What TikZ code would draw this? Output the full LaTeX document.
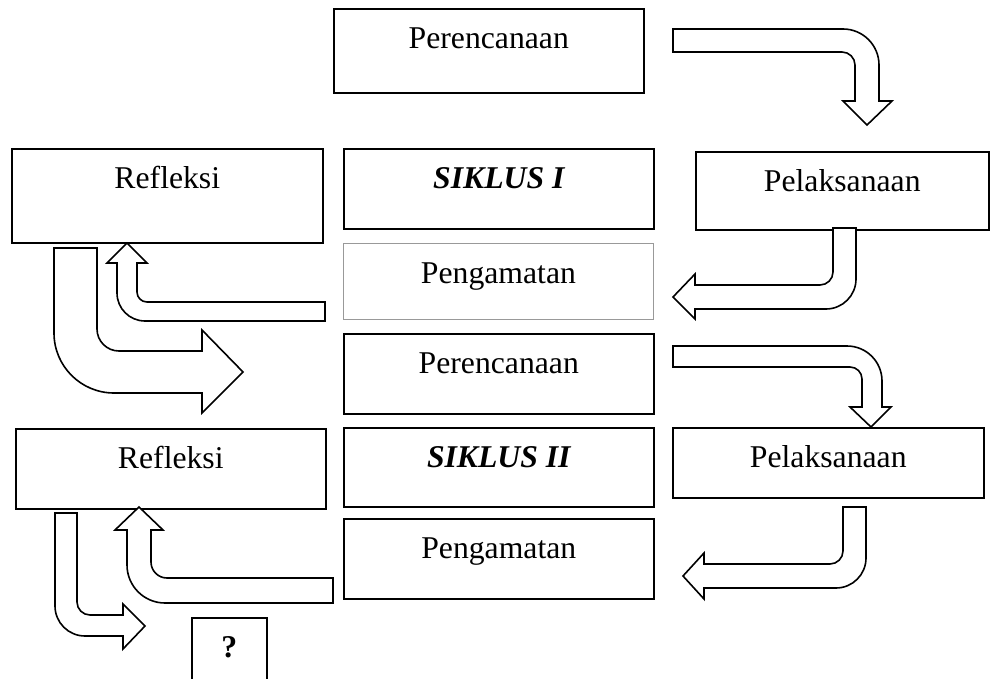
\documentclass[tikz,border=0pt]{standalone}
\usepackage{fontspec}
\setmainfont{Liberation Serif}
\tikzstyle{stage} = [rectangle, draw=black, line width=1.6pt, anchor=north west,
inner sep=0pt, text height=40pt, font=\fontsize{31.7}{36}\selectfont]
\tikzstyle{faint} = [draw=black!40, line width=0.9pt]
\tikzstyle{cycle} = [font=\fontsize{31.7}{36}\selectfont\bfseries\itshape]
\tikzstyle{bentarrow} = [draw=black, line width=1.6pt, fill=white]

\begin{document}
\begin{tikzpicture}[x=1pt, y=-1pt]
  \useasboundingbox (0,0) rectangle (998,679);

  % siklus I
  \node[stage, minimum width=310pt, text depth=44pt] (plan1) at (333,8) {Perencanaan};
  \node[stage, minimum width=311pt, text depth=54pt] (refl1) at (11,148) {Refleksi};
  \node[stage, cycle, minimum width=310pt, text depth=40pt] (siklus1) at (343,148) {SIKLUS I};
  \node[stage, minimum width=293pt, text depth=38pt] (pel1) at (695,151) {Pelaksanaan};
  \node[stage, faint, minimum width=310pt, text depth=36pt] (peng1) at (343,243) {Pengamatan};

  % siklus II
  \node[stage, minimum width=310pt, text depth=40pt] (plan2) at (343,333) {Perencanaan};
  \node[stage, minimum width=310pt, text depth=40pt] (refl2) at (15,428) {Refleksi};
  \node[stage, cycle, minimum width=310pt, text depth=39pt] (siklus2) at (343,427) {SIKLUS II};
  \node[stage, minimum width=311pt, text depth=30pt] (pel2) at (672,427) {Pelaksanaan};
  \node[stage, minimum width=310pt, text depth=40pt] (peng2) at (343,518) {Pengamatan};
  \node[stage, minimum width=75pt, text depth=33pt] (ask) at (191,617) {\bfseries ?};

  % plan1 -> pel1
  \draw[bentarrow] (673,29) -- (843,29) arc[start angle=270, end angle=360, radius=36]
    -- (879,101) -- (892,101) -- (867,125) -- (843,101) -- (855,101) -- (855,65)
    arc[start angle=0, end angle=-90, radius=13] -- (673,52) -- cycle;
  % pel1 -> peng1
  \draw[bentarrow] (833,228) -- (833,272) arc[start angle=0, end angle=90, radius=13]
    -- (695,285) -- (695,274) -- (673,297) -- (695,319) -- (695,309) -- (826,309)
    arc[start angle=90, end angle=0, radius=30] -- (856,228) -- cycle;
  % peng1 -> refl1
  \draw[bentarrow] (325,302) -- (147,302) arc[start angle=90, end angle=180, radius=10]
    -- (137,263) -- (147,263) -- (127,243) -- (107,263) -- (117,263) -- (117,293)
    arc[start angle=180, end angle=90, radius=28] -- (325,321) -- cycle;
  % refl1 -> plan2
  \draw[bentarrow] (54,248) -- (97,248) -- (97,329) arc[start angle=180, end angle=90, radius=22]
    -- (202,351) -- (202,330) -- (243,372) -- (202,413) -- (202,393) -- (114,393)
    arc[start angle=90, end angle=180, radius=60] -- cycle;

  % plan2 -> pel2
  \draw[bentarrow] (673,346) -- (847,346) arc[start angle=270, end angle=360, radius=35]
    -- (882,407) -- (891,407) -- (871,427) -- (850,407) -- (862,407) -- (862,379)
    arc[start angle=0, end angle=-90, radius=12] -- (673,367) -- cycle;
  % pel2 -> peng2
  \draw[bentarrow] (843,507) -- (843,551) arc[start angle=0, end angle=90, radius=13]
    -- (704,564) -- (704,553) -- (683,576) -- (704,599) -- (704,588) -- (836,588)
    arc[start angle=90, end angle=0, radius=30] -- (866,507) -- cycle;
  % peng2 -> refl2
  \draw[bentarrow] (333,578) -- (167,578) arc[start angle=90, end angle=180, radius=16]
    -- (151,530) -- (163,530) -- (139,507) -- (115,530) -- (127,530) -- (127,565)
    arc[start angle=180, end angle=90, radius=38] -- (333,603) -- cycle;
  % refl2 -> ask
  \draw[bentarrow] (55,513) -- (77,513) -- (77,602) arc[start angle=180, end angle=90, radius=13]
    -- (123,615) -- (123,604) -- (145,626) -- (123,649) -- (123,636) -- (85,636)
    arc[start angle=90, end angle=180, radius=30] -- cycle;
\end{tikzpicture}
\end{document}
